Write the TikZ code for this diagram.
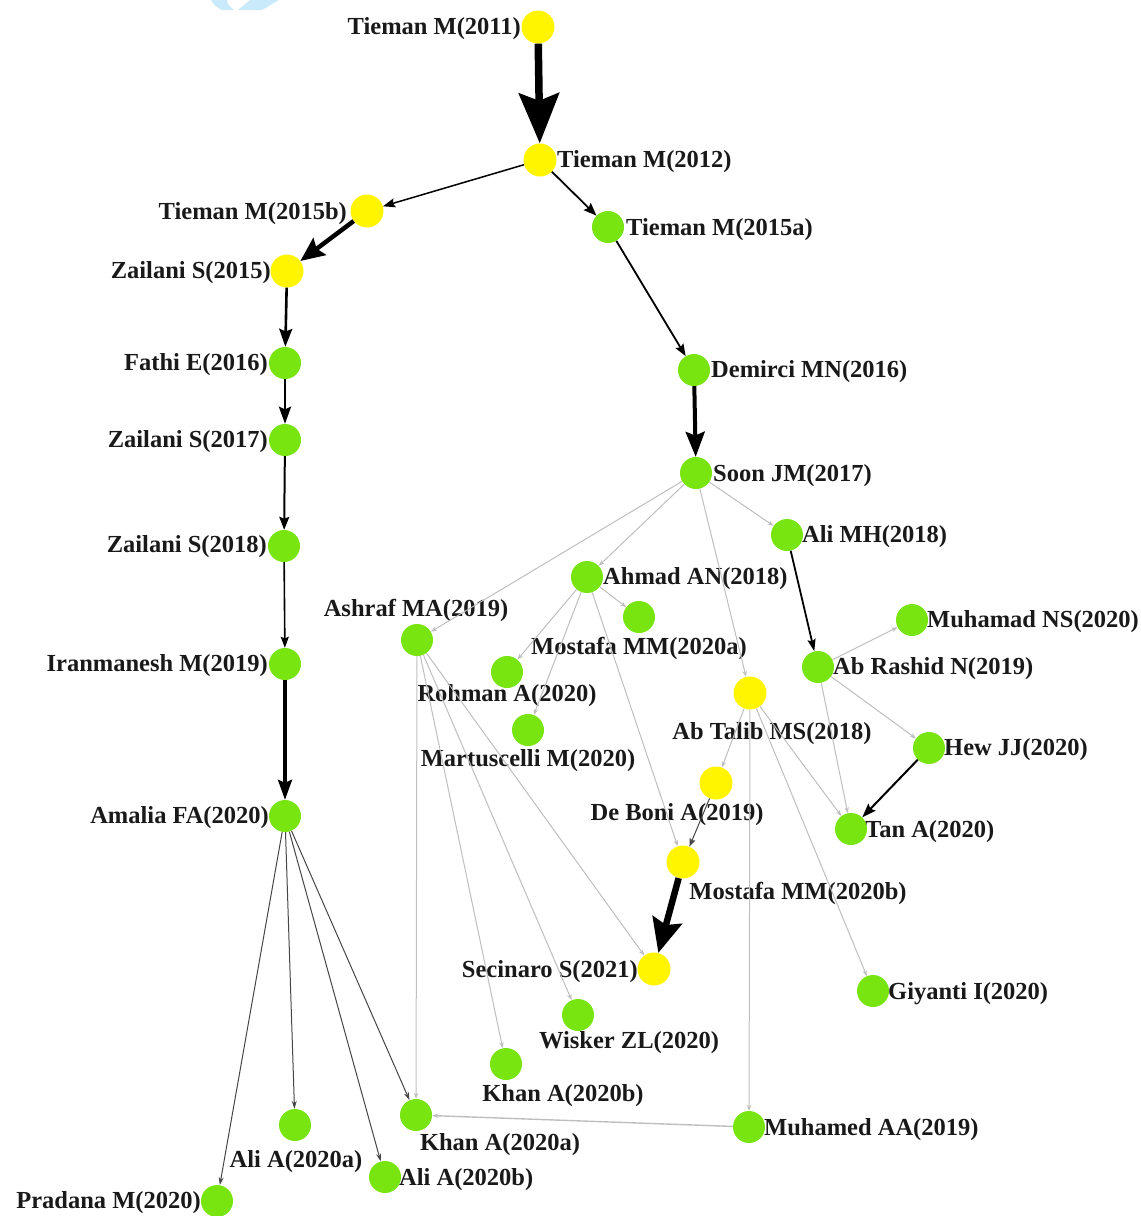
\documentclass[tikz,border=0pt]{standalone}
\usepackage{fontspec}
\setmainfont{Liberation Serif}
\usetikzlibrary{arrows.meta}
\definecolor{nodeyellow}{RGB}{255,245,0}
\definecolor{nodegreen}{RGB}{120,228,16}
\definecolor{linkgray}{RGB}{190,190,190}
\definecolor{fangray}{RGB}{70,70,70}
\definecolor{markblue}{RGB}{200,234,250}
\newcommand{\lblfont}{\bfseries\fontsize{24.5}{25}\selectfont}
\tikzset{
  yel/.style={circle, fill=nodeyellow, minimum size=33pt, inner sep=0pt},
  grn/.style={circle, fill=nodegreen, minimum size=32pt, inner sep=0pt},
  lbl/.style={font=\lblfont, inner sep=0pt, text=black!90, yshift=-2pt},
  ref/.style={draw=linkgray, line width=1pt, -{Stealth[length=6pt,width=4.5pt]}},
  fan/.style={draw=fangray, line width=1pt, -{Stealth[length=8pt,width=5pt]}},
  cite/.style n args={3}{draw=black, line width=#1, -{Stealth[length=#2,width=#3,inset=0.15*#2]}}
}
\begin{document}
\begin{tikzpicture}[x=1pt,y=-1pt]
\useasboundingbox (0,0) rectangle (1141,1216);
% faint mark along the top edge
\fill[markblue] (211,0) -- (227,0) .. controls (228,5) .. (234,10) -- (222,10) .. controls (215,6) .. cycle;
\fill[markblue] (250,0) -- (279,0) -- (262,10) -- (238,10) -- cycle;

% labels
\node[lbl, anchor=east] (l-t11) at (521,27) {Tieman M(2011)};
\node[lbl, anchor=west] (l-t12) at (557,160) {Tieman M(2012)};
\node[lbl, anchor=east] (l-t15b) at (347,212) {Tieman M(2015b)};
\node[lbl, anchor=west] (l-t15a) at (626,228) {Tieman M(2015a)};
\node[lbl, anchor=east] (l-z15) at (271,271) {Zailani S(2015)};
\node[lbl, anchor=east] (l-f16) at (268,363) {Fathi E(2016)};
\node[lbl, anchor=east] (l-z17) at (268,440) {Zailani S(2017)};
\node[lbl, anchor=east] (l-z18) at (267,545) {Zailani S(2018)};
\node[lbl, anchor=east] (l-i19) at (268,664) {Iranmanesh M(2019)};
\node[lbl, anchor=east] (l-a20) at (269,816) {Amalia FA(2020)};
\node[lbl, anchor=west] (l-d16) at (711,370) {Demirci MN(2016)};
\node[lbl, anchor=west] (l-s17) at (713,474) {Soon JM(2017)};
\node[lbl, anchor=west] (l-amh) at (802,535) {Ali MH(2018)};
\node[lbl, anchor=west] (l-aan) at (603,577) {Ahmad AN(2018)};
\node[lbl] (l-ama) at (416,608) {Ashraf MA(2019)};
\node[lbl] (l-mma) at (639,646) {Mostafa MM(2020a)};
\node[lbl] (l-roh) at (507,694) {Rohman A(2020)};
\node[lbl] (l-mar) at (528,759) {Martuscelli M(2020)};
\node[lbl, anchor=west] (l-mns) at (927,620) {Muhamad NS(2020)};
\node[lbl, anchor=west] (l-arn) at (833,667) {Ab Rashid N(2019)};
\node[lbl] (l-abt) at (772,732) {Ab Talib MS(2018)};
\node[lbl, anchor=west] (l-hew) at (944,748) {Hew JJ(2020)};
\node[lbl] (l-dbo) at (677,813) {De Boni A(2019)};
\node[lbl, anchor=west] (l-tan) at (865,830) {Tan A(2020)};
\node[lbl] (l-mmb) at (798,891) {Mostafa MM(2020b)};
\node[lbl, anchor=east] (l-sec) at (638,970) {Secinaro S(2021)};
\node[lbl, anchor=west] (l-giy) at (888,992) {Giyanti I(2020)};
\node[lbl] (l-wis) at (629,1041) {Wisker ZL(2020)};
\node[lbl] (l-khb) at (563,1094) {Khan A(2020b)};
\node[lbl] (l-kha) at (500,1143) {Khan A(2020a)};
\node[lbl, anchor=west] (l-muh) at (764,1128) {Muhamed AA(2019)};
\node[lbl] (l-aia) at (296,1160) {Ali A(2020a)};
\node[lbl, anchor=west] (l-aib) at (399,1178) {Ali A(2020b)};
\node[lbl, anchor=east] (l-pra) at (201,1201) {Pradana M(2020)};

% publications
\node[yel] (t11) at (538,27) {};
\node[yel] (t12) at (540,160) {};
\node[yel] (t15b) at (367,211) {};
\node[grn] (t15a) at (608,227) {};
\node[yel] (z15) at (287,271) {};
\node[grn] (f16) at (285,363) {};
\node[grn] (z17) at (285,440) {};
\node[grn] (z18) at (284,546) {};
\node[grn] (i19) at (285,664) {};
\node[grn] (a20) at (285,816) {};
\node[grn] (d16) at (694,370) {};
\node[grn] (s17) at (696,473) {};
\node[grn] (amh) at (787,535) {};
\node[grn] (aan) at (587,577) {};
\node[grn] (ama) at (417,640) {};
\node[grn] (mma) at (639,617) {};
\node[grn] (roh) at (507,672) {};
\node[grn] (mar) at (528,730) {};
\node[yel] (abt) at (750,693) {};
\node[grn] (mns) at (912,620) {};
\node[grn] (arn) at (818,667) {};
\node[grn] (hew) at (929,748) {};
\node[yel] (dbo) at (716,783) {};
\node[grn] (tan) at (851,829) {};
\node[yel] (mmb) at (683,862) {};
\node[yel] (sec) at (654,969) {};
\node[grn] (giy) at (873,991) {};
\node[grn] (wis) at (578,1015) {};
\node[grn] (khb) at (506,1064) {};
\node[grn] (kha) at (416,1115) {};
\node[grn] (muh) at (749,1127) {};
\node[grn] (aia) at (295,1125) {};
\node[grn] (aib) at (385,1177) {};
\node[grn] (pra) at (217,1201) {};

% weaker citation links
\draw[ref] (s17) -- (ama);
\draw[ref] (s17) -- (aan);
\draw[ref] (s17) -- (abt);
\draw[ref] (s17) -- (amh);
\draw[ref] (aan) -- (mma);
\draw[ref] (aan) -- (roh);
\draw[ref] (aan) -- (mar);
\draw[ref] (aan) -- (mmb);
\draw[ref] (ama) -- (kha);
\draw[ref] (ama) -- (khb);
\draw[ref] (ama) -- (wis);
\draw[ref] (ama) -- (sec);
\draw[ref] (abt) -- (dbo);
\draw[ref] (abt) -- (muh);
\draw[ref] (abt) -- (giy);
\draw[ref] (abt) -- (tan);
\draw[ref] (arn) -- (mns);
\draw[ref] (arn) -- (hew);
\draw[ref] (arn) -- (tan);
\draw[ref, line width=1.4pt] (muh) -- (kha);

% fan-out from Amalia FA(2020)
\draw[fan] (a20) -- (pra);
\draw[fan] (a20) -- (aia);
\draw[fan] (a20) -- (aib);
\draw[fan] (a20) -- (kha);

% main citation path
\draw[cite={7.5pt}{50pt}{40pt}] (t11) -- (t12);
\draw[cite={1.5pt}{12pt}{9pt}] (t12) -- (t15b);
\draw[cite={1.8pt}{13pt}{10pt}] (t12) -- (t15a);
\draw[cite={4.5pt}{24pt}{21pt}] (t15b) -- (z15);
\draw[cite={2.6pt}{18pt}{13pt}] (z15) -- (f16);
\draw[cite={2.6pt}{17pt}{12pt}] (f16) -- (z17);
\draw[cite={2pt}{13pt}{10pt}] (z17) -- (z18);
\draw[cite={1.6pt}{11pt}{8pt}] (z18) -- (i19);
\draw[cite={3.5pt}{20pt}{14pt}] (i19) -- (a20);
\draw[cite={1.8pt}{12pt}{9pt}] (t15a) -- (d16);
\draw[cite={4pt}{25pt}{19pt}] (d16) -- (s17);
\draw[cite={1.8pt}{12pt}{8pt}] (amh) -- (arn);
\draw[cite={2pt}{14pt}{10pt}] (hew) -- (tan);
\draw[cite={1pt}{8pt}{6pt}, draw=fangray] (dbo) -- (mmb);
\draw[cite={6.5pt}{34pt}{30pt}] (mmb) -- (sec);
\end{tikzpicture}
\end{document}
